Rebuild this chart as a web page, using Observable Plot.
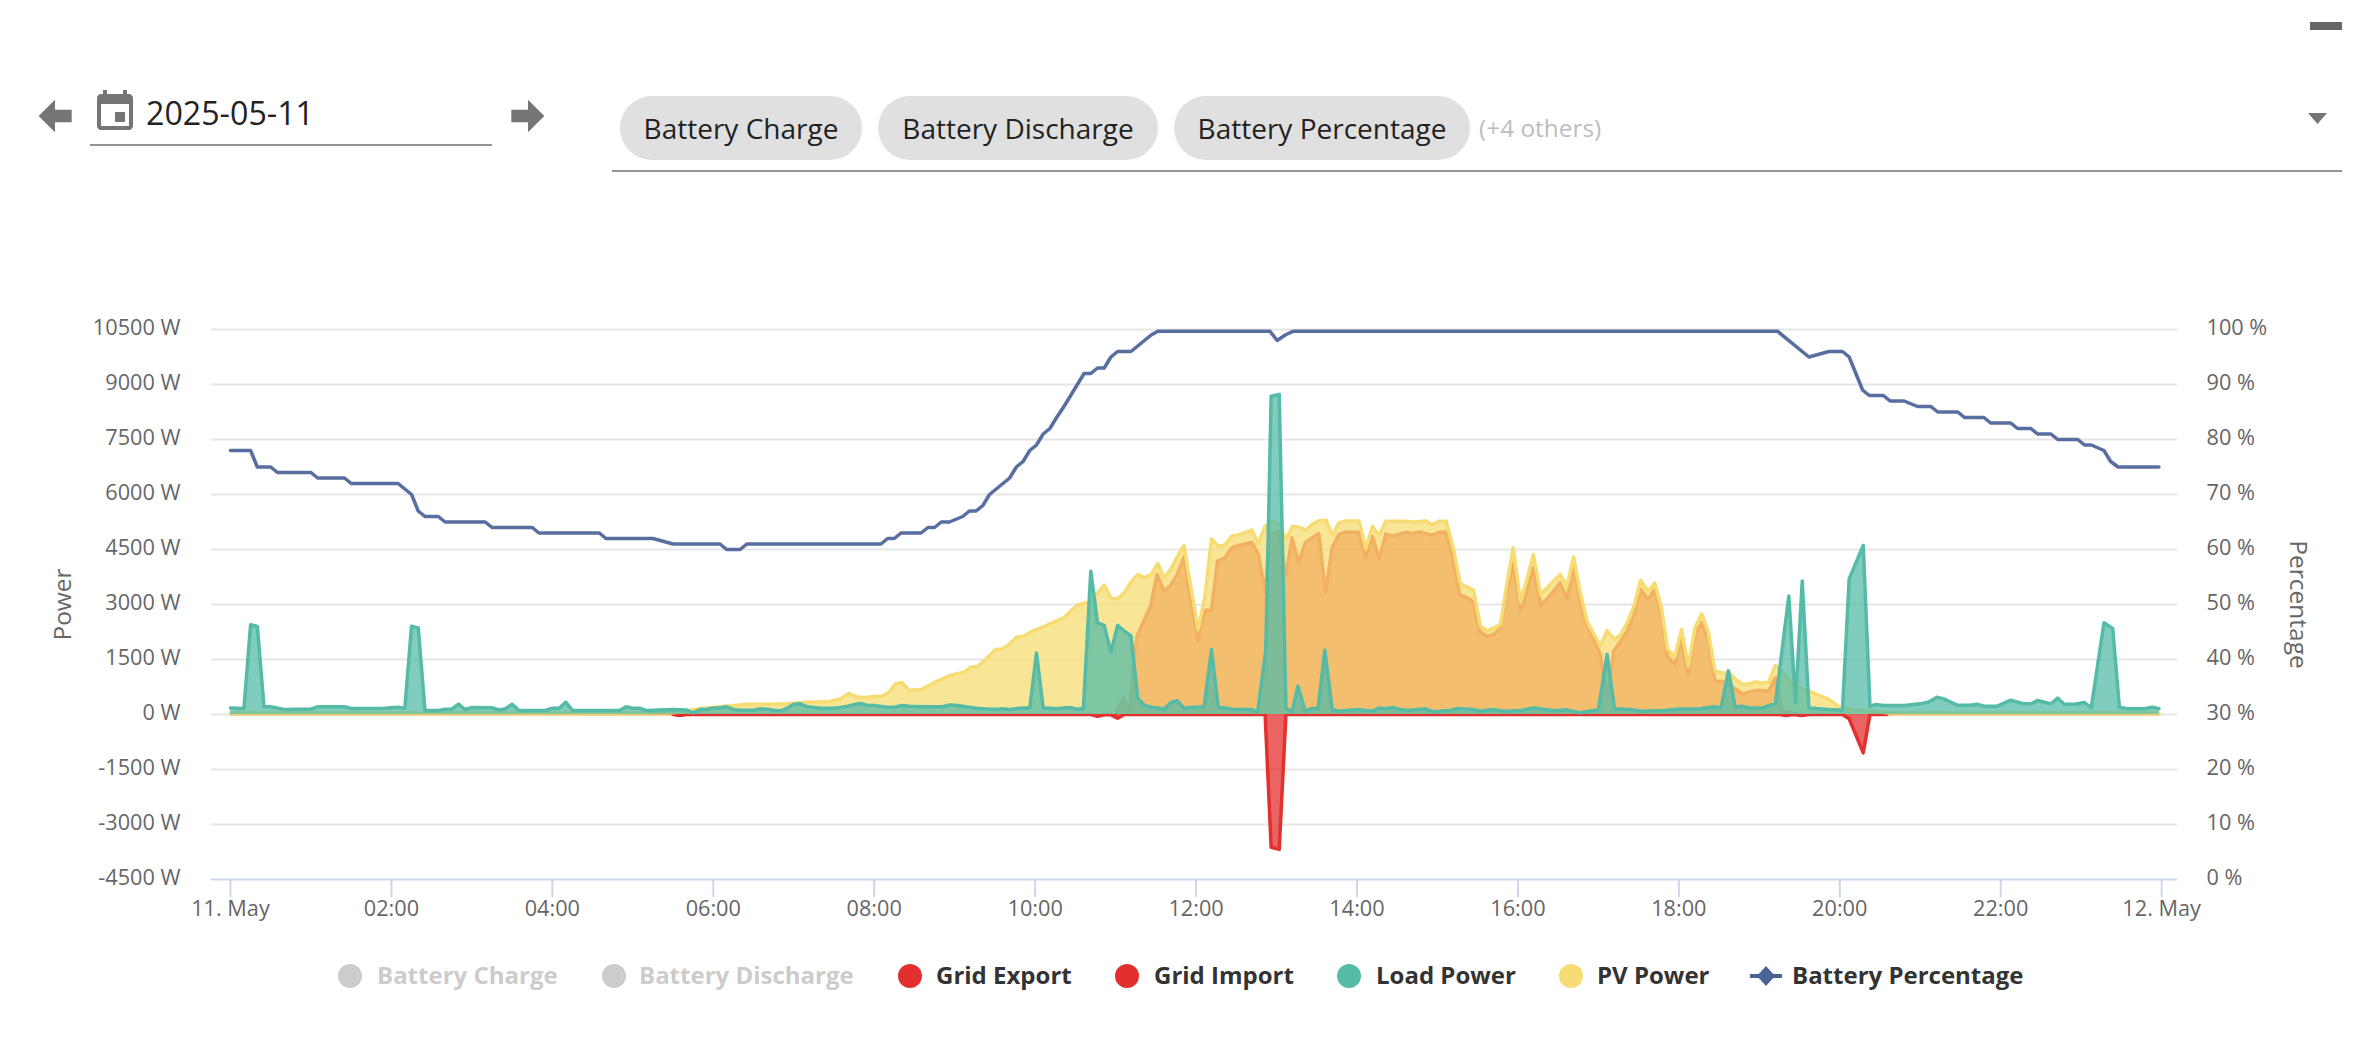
<!DOCTYPE html>
<html>
<head>
<meta charset="utf-8">
<script src="https://cdn.jsdelivr.net/npm/d3@7"></script>
<script src="https://cdn.jsdelivr.net/npm/@observablehq/plot@0.6"></script>
<style>
html,body{margin:0;padding:0;background:#fff;width:2366px;height:1042px;overflow:hidden;font-family:"Open Sans",sans-serif;}
#page{position:relative;width:2366px;height:1042px;}
#chart{position:absolute;left:0;top:0;}
.abs{position:absolute;white-space:nowrap;}
.chip{position:absolute;top:96px;height:64px;border-radius:32px;background:#e0e0e0;color:#222;font-size:28px;line-height:64px;text-align:center;white-space:nowrap;}
.legtext{position:absolute;top:958px;font-size:24px;line-height:34px;font-weight:700;color:#333;white-space:nowrap;}
.dot{position:absolute;top:964px;width:24px;height:24px;border-radius:50%;}
</style>
</head>
<body>
<div id="page">
  <div class="abs" style="left:2310px;top:22px;width:32px;height:8px;background:#666"></div>
  <svg class="abs" style="left:30px;top:91px" width="50" height="50" viewBox="0 0 24 24"><path fill="#757575" d="M20,9V15H12V19.84L4.16,12L12,4.16V9H20Z"/></svg>
  <svg class="abs" style="left:91px;top:88px" width="48" height="48" viewBox="0 0 24 24"><path fill="#757575" d="M17 12h-5v5h5v-5zM16 1v2H8V1H6v2H5c-1.11 0-1.99.9-1.99 2L3 19c0 1.1.89 2 2 2h14c1.1 0 2-.9 2-2V5c0-1.1-.9-2-2-2h-1V1h-2zm3 18H5V8h14v11z"/></svg>
  <div class="abs" style="left:146px;top:91px;font-size:32.2px;line-height:44px;color:#222">2025-05-11</div>
  <div class="abs" style="left:90px;top:144px;width:402px;height:2px;background:#949494"></div>
  <svg class="abs" style="left:503px;top:91px" width="50" height="50" viewBox="0 0 24 24"><path fill="#757575" d="M4,15V9H12V4.16L19.84,12L12,19.84V15H4Z"/></svg>
  <div class="chip" style="left:620px;width:242px">Battery Charge</div>
  <div class="chip" style="left:878px;width:280px">Battery Discharge</div>
  <div class="chip" style="left:1174px;width:296px">Battery Percentage</div>
  <div class="abs" style="left:1479px;top:111px;font-size:24.4px;line-height:34px;color:#bdbdbd">(+4 others)</div>
  <svg class="abs" style="left:2308px;top:113px" width="19" height="11"><polygon points="0,0 19,0 9.5,11" fill="#757575"/></svg>
  <div class="abs" style="left:612px;top:170px;width:1730px;height:2px;background:#949494"></div>
  <div id="chart"></div>
  <div id="legend"></div>
</div>
<script>
const axisTicks = [-4500,-3000,-1500,0,1500,3000,4500,6000,7500,9000,10500];
const hourTicks = [0,2,4,6,8,10,12,14,16,18,20,22,24];

// [sample number (5-minute steps after 2025-05-11 00:00), value]
const batteryPoints = [[0,78],[3,78],[4,75],[6,75],[7,74],[12,74],[13,73],[17,73],[18,72],[25,72],[27,70],[28,67],[29,66],[31,66],[32,65],[38,65],[39,64],[45,64],[46,63],[55,63],[56,62],[63,62],[66,61],[73,61],[74,60],[76,60],[77,61],[97,61],[98,62],[99,62],[100,63],[103,63],[104,64],[105,64],[106,65],[107.2,65],[109.2,66],[110.2,67],[111.2,67],[112.2,68],[113.2,70],[114.2,71],[116.2,73],[117.2,75],[118.2,76],[119.2,78],[120.2,79],[121.2,81],[122.2,82],[123.2,84],[124.3,86],[125.3,88],[126.3,90],[127.3,92],[128.3,92],[129.3,93],[130.3,93],[131.3,95],[132.3,96],[134.3,96],[135.3,97],[136.3,98],[137.3,99],[138.3,99.7],[155,99.7],[156.1,98],[157.3,99],[158.5,99.7],[230.7,99.7],[235.4,95],[238.4,96],[240.4,96],[241.4,95],[243.4,89],[244.4,88],[246.5,88],[247.5,87],[249.6,87],[251.6,86],[253.6,86],[254.6,85],[257.6,85],[258.6,84],[261.5,84],[262.5,83],[265.5,83],[266.5,82],[268.5,82],[269.5,81],[271.5,81],[272.5,80],[275.5,80],[276.5,79],[277.5,79],[279.4,78],[280.4,76],[281.5,75],[287.6,75]];

const loadPoints = [[0,180],[2,165],[3,2450],[4,2400],[5,210],[6,210],[8,135],[12,150],[13,210],[17,210],[18,165],[23,170],[25,200],[26,170],[27,2410],[28,2360],[29,110],[31,110],[32,145],[33,145],[34,280],[35,135],[36,190],[39,185],[40,125],[41,155],[42,280],[43,110],[47,115],[48,170],[49,170],[50,336],[51,110],[58,110],[59,210],[60,170],[61,170],[62,110],[66,135],[68,120],[69,45],[70,135],[71,135],[72,180],[73,180],[74,210],[75,135],[76,118],[78,118],[79,155],[80,145],[81,118],[82,100],[83,170],[84,280],[85,290],[86,210],[87,190],[88,170],[90,170],[91,190],[92,225],[93,270],[94,300],[95,245],[96,245],[97,220],[98,200],[99,200],[100.2,245],[101.2,225],[103.2,210],[106.2,210],[107.2,260],[108.2,255],[109.2,225],[110.2,200],[111.2,170],[112.2,155],[114.2,135],[115.2,155],[116.2,135],[118.2,180],[119.2,180],[120.2,1680],[121.2,180],[122.2,170],[123.2,155],[124.2,180],[125.2,190],[126.2,145],[127.2,165],[128.3,3910],[129.3,2500],[130.3,2430],[131.3,1700],[132.3,2430],[133.3,2270],[134.3,2140],[135.3,455],[136.3,245],[137.3,200],[138.3,180],[139.2,136],[140.2,320],[141.2,380],[142.2,165],[143.2,190],[145.2,210],[146.3,1770],[147.3,200],[148.4,180],[149.4,136],[152.1,136],[153.2,73],[154.4,1770],[155.2,8680],[156.4,8730],[157.4,180],[158.3,73],[159.2,770],[160.3,90],[161.3,165],[162.2,165],[163.2,1755],[164.3,136],[165.3,90],[168,136],[170.3,90],[171.3,180],[172.3,155],[173.3,190],[174.5,136],[175.5,110],[178.2,155],[179.5,73],[182,118],[182.9,165],[185.2,136],[186.4,90],[188.1,136],[189.9,90],[192.4,110],[194.4,180],[197.3,100],[199.3,127],[201.3,45],[204,127],[205.3,1640],[206.4,155],[208.8,136],[210.3,90],[214,110],[215.5,145],[219.2,155],[221.2,210],[222.3,180],[223.4,1190],[224.4,200],[225.5,227],[226.4,180],[228.4,180],[230.4,300],[232.4,3230],[233.4,318],[234.4,3640],[235.4,180],[238.4,136],[240.4,118],[241.4,3700],[243.5,4610],[244.5,227],[245.3,270],[246.6,245],[249.6,245],[252.3,300],[253.3,345],[254.5,473],[255.5,427],[257.5,255],[259.5,255],[260.5,280],[261.5,227],[263.5,227],[265.5,390],[267.5,290],[268.5,290],[269.5,380],[271.5,290],[272.5,445],[273.5,280],[275,280],[276.5,327],[277.5,180],[279.4,2500],[280.7,2345],[281.7,200],[282.7,165],[285.4,155],[286.6,200],[287.6,155]];

const pvPoints = [[0,40],[60,40],[66,50],[70,155],[73,210],[75,245],[77,280],[80,280],[83,290],[86,335],[89,345],[91,430],[92.2,570],[93.5,480],[94.7,465],[96.2,500],[97.2,500],[98.2,610],[99.2,836],[100.2,864],[101.2,660],[103,680],[105.4,910],[107.4,1070],[109.4,1155],[110.4,1290],[111.4,1310],[112.6,1500],[114.1,1770],[115.1,1790],[116.1,1910],[117.2,2110],[118.3,2135],[119.3,2245],[121.2,2390],[124.3,2640],[125.3,2820],[126.3,2980],[128.3,3090],[130.3,3530],[131.3,3180],[132.3,3160],[133.3,3320],[134.3,3610],[135.3,3820],[136.3,3730],[137.3,3820],[138.3,4120],[139.2,3730],[140.2,3950],[141.2,4300],[142.2,4610],[143.2,3500],[144.3,2320],[145.3,3180],[146.3,4790],[147.3,4590],[148.3,4620],[149.3,4860],[150.3,4900],[152.3,5030],[153.3,4660],[154.3,5135],[155.3,5250],[156.4,5200],[157.4,4770],[158.4,5135],[159.4,5110],[160.4,5030],[161.4,5200],[162.4,5290],[163.4,5290],[164.3,4890],[165.3,5225],[166.3,5280],[168.3,5280],[169.3,4520],[170.3,5135],[171.3,4880],[172.3,5270],[175.2,5270],[176.5,5250],[178.2,5280],[179.2,5180],[180.2,5270],[181.3,5270],[182.4,4500],[183.4,3570],[184.4,3480],[185.4,3390],[186.4,2410],[187.4,2290],[188.4,2360],[189.4,2450],[190.3,3500],[191.3,4545],[192.4,3060],[193.4,3730],[194.3,4360],[195.4,3270],[196.9,3560],[198.3,3820],[199.3,3500],[200.3,4300],[201.3,3320],[202.3,2545],[204.3,1860],[205.3,2290],[206.4,2045],[207.3,2180],[208.3,2500],[209.3,2950],[210.3,3660],[211.4,3360],[212.4,3590],[213.4,2910],[214.3,1790],[215.4,1570],[216.4,2320],[217.4,1320],[218.4,2360],[219.4,2745],[220.4,2245],[221.4,1180],[222.5,1135],[223.5,1135],[224.5,955],[225.5,820],[226.5,840],[227.4,890],[228.4,860],[229.4,880],[230.4,1340],[231.2,1210],[233.4,770],[235.4,636],[238.4,410],[240.1,180],[242.1,136],[247.1,50],[249,40],[287.6,40]];

const exportPoints = [[132,0],[133.2,450],[134.2,100],[134.7,1500],[135.2,2136],[136.2,2545],[137.2,2950],[138.2,3820],[139.2,3360],[140.2,3520],[141.2,3820],[142.2,4300],[143.2,3140],[144.3,1985],[145.3,2845],[146.3,2845],[147.2,4190],[148.2,4250],[149.3,4545],[150.3,4610],[152.3,4690],[153.3,4370],[154.3,3320],[155,4900],[156.3,5000],[157.4,3770],[158.3,4820],[159.3,4135],[160.3,4680],[161.3,4820],[162.3,4935],[163.3,3320],[164.3,4545],[165.3,4910],[166.3,4980],[168.3,4970],[169.3,4270],[170.3,4860],[171.3,4245],[172.3,4920],[173.3,4860],[175.3,4970],[176.3,4940],[177.3,4980],[179.2,4890],[180.2,4970],[181.2,4980],[182.2,4370],[183.3,3270],[184.4,3180],[185.3,3090],[186.3,2270],[187.4,2136],[188.4,2180],[189.4,2360],[190.3,3320],[191.3,4135],[192.4,2820],[193.4,3410],[194.3,4000],[195.4,2970],[196.9,3270],[198.3,3590],[199.3,3150],[200.3,4000],[201.3,3090],[202.3,2450],[204.3,1640],[205.3,350],[206.3,1730],[207.3,2000],[208.3,2270],[209.3,2730],[210.3,3410],[211.4,3135],[212.4,3410],[213.4,2730],[214.3,1590],[215.4,1360],[216.4,2045],[217.4,1090],[218.4,2180],[219.4,2500],[220.4,2045],[221.4,910],[222.5,910],[223.5,820],[224.5,680],[225.5,560],[226.5,610],[227.4,660],[229.4,640],[230.4,1000],[231.4,90],[234,0]];

const importPoints = [[66,0],[67,-30],[68,0],[128.3,0],[129.3,-50],[130.3,-10],[131.3,-10],[132.3,-100],[133.3,0],[154.3,0],[155.2,-3620],[156.4,-3680],[157.4,0],[231,0],[232,-25],[233,0],[234.4,-27],[235.4,0],[240.4,0],[241.4,-118],[243.5,-1045],[244.5,0],[247,0]];

// stretches where the zero-valued grid lines sit under the PV line and read as a thin orange edge
const gridUnderPvEarly = [[0,0],[66,0]];
const gridUnderPvLate = [[247,0],[287.6,0]];

const legendItems = [
  ["Battery Charge",350,377,"#cccccc","#cccccc"],
  ["Battery Discharge",614,639,"#cccccc","#cccccc"],
  ["Grid Export",910,936,"#e3302f","#333333"],
  ["Grid Import",1127,1154,"#e3302f","#333333"],
  ["Load Power",1349,1376,"#55bba7","#333333"],
  ["PV Power",1571,1597,"#f7dc73","#333333"]
];

const dayStart = Date.UTC(2025,4,11);
const at = n => new Date(dayStart + n*300000);
const rows = pts => pts.map(([n,v]) => ({t:at(n), v}));
const pctToPower = d3.scaleLinear([0,100],[-4500,10500]);
const battery = batteryPoints.map(([n,p]) => ({t:at(n), v:pctToPower(p)}));

const layer = (pts,color) => [
  Plot.areaY(rows(pts),{x:"t",y1:0,y2:"v",fill:color,fillOpacity:0.75,curve:"linear"}),
  Plot.lineY(rows(pts),{x:"t",y:"v",stroke:color,strokeWidth:3.5,curve:"linear",strokeLinejoin:"round"})
];

const chart = Plot.plot({
  width:2366,height:1042,
  marginTop:329,marginBottom:163,marginLeft:211,marginRight:189,
  style:{fontFamily:"'Open Sans',sans-serif",fontSize:"21.7px",background:"transparent",overflow:"visible"},
  x:{type:"utc",domain:[new Date(Date.UTC(2025,4,10,23,45,50)),new Date(Date.UTC(2025,4,12,0,11,50))]},
  y:{domain:[-4500,10500]},
  marks:[
    Plot.ruleY(axisTicks.filter(d=>d>-4500),{stroke:"#e6e6e6",strokeWidth:2}),
    Plot.ruleY([-4500],{stroke:"#ccd6eb",strokeWidth:2}),
    Plot.axisX(hourTicks.map(h=>new Date(dayStart+h*3600000)),{
      anchor:"bottom",tickSize:18,tickPadding:3.5,stroke:"#ccd6eb",strokeWidth:2,fill:"#666666",label:null,
      tickFormat:d=>d.getUTCHours()===0?d3.utcFormat("%-d. %b")(d):d3.utcFormat("%H:%M")(d)
    }),
    Plot.axisY(axisTicks,{anchor:"left",tickSize:0,tickPadding:31,fill:"#666666",dy:-1,
      tickFormat:d=>d+" W",label:null}),
    Plot.axisY(axisTicks,{anchor:"right",tickSize:0,tickPadding:29,fill:"#666666",dy:-1,
      tickFormat:d=>Math.round(pctToPower.invert(d))+" %",label:null}),
    Plot.text(["Power"],{frameAnchor:"left",textAnchor:"middle",dx:-148,rotate:-90,fontSize:24.5,fill:"#666666"}),
    Plot.text(["Percentage"],{frameAnchor:"right",textAnchor:"middle",dx:120,rotate:90,fontSize:24.5,fill:"#666666"}),
    Plot.lineY(rows(gridUnderPvEarly),{x:"t",y:"v",stroke:"#eea64e",strokeWidth:2}),
    Plot.lineY(rows(gridUnderPvLate),{x:"t",y:"v",stroke:"#eea64e",strokeWidth:2}),
    ...layer(exportPoints,"#e3302f"),
    ...layer(importPoints,"#e3302f"),
    ...layer(pvPoints,"#f7dc73"),
    ...layer(loadPoints,"#55bba7"),
    Plot.lineY(battery,{x:"t",y:"v",stroke:"#586da0",strokeWidth:3.5,curve:"linear",strokeLinejoin:"round"})
  ]
});
document.getElementById("chart").appendChild(chart);

const legend = document.getElementById("legend");
for (const [name,dotX,textX,dot,ink] of legendItems) {
  const c = document.createElement("div"); c.className="dot";
  c.style.left=(dotX-12)+"px"; c.style.background=dot; legend.appendChild(c);
  const s = document.createElement("div"); s.className="legtext";
  s.style.left=textX+"px"; s.style.color=ink; s.textContent=name; legend.appendChild(s);
}
legend.insertAdjacentHTML("beforeend",
 '<svg style="position:absolute;left:1748px;top:964px" width="36" height="24"><rect x="2" y="10" width="32" height="4" fill="#4a6296"/><polygon points="18,2 27,12 18,22 9,12" fill="#4a6296"/></svg>'+
 '<div class="legtext" style="left:1792px">Battery Percentage</div>');
</script>
</body>
</html>
